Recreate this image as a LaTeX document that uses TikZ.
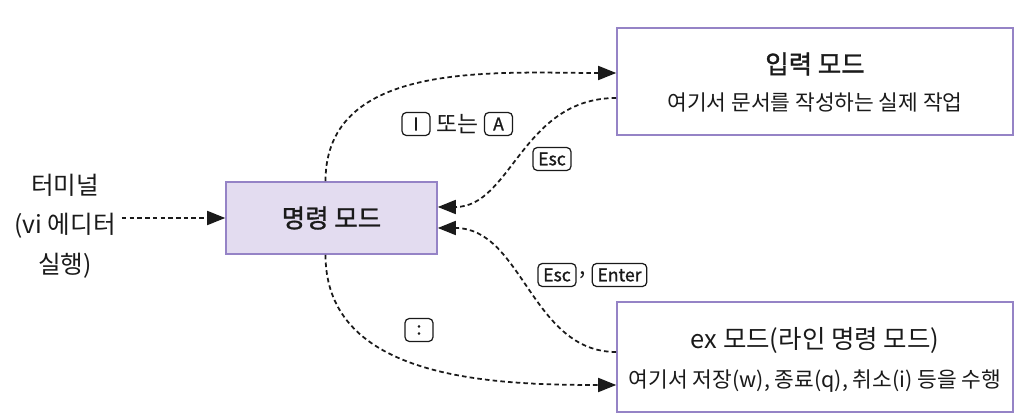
\documentclass[tikz,border=0pt]{standalone}
\usepackage{fontspec}
\setmainfont{Noto Sans CJK KR}
\newfontfamily\medfont[FakeBold=1.2]{Noto Sans CJK KR}
\usetikzlibrary{arrows.meta,positioning}
\definecolor{modeline}{HTML}{9583C6}
\definecolor{modefill}{HTML}{E3DCF0}
\definecolor{ink}{HTML}{1A1A1A}
\tikzset{
  >={Triangle[length=3.6mm,width=2.8mm]},
  % 모드
  cmdbox/.style={draw=modeline,fill=modefill,line width=0.9pt,minimum width=4.22cm,
                 minimum height=1.44cm,font=\fontsize{14.5}{16}\medfont,text=ink},
  modebox/.style={draw=modeline,fill=white,line width=0.9pt,minimum width=7.92cm},
  ttl/.style={font=\fontsize{14.5}{16}\selectfont,text=ink,inner sep=1pt},
  sub/.style={font=\fontsize{12.2}{14}\selectfont,text=ink,inner sep=1pt},
  tr/.style={->,draw=ink,line width=1pt,dash pattern=on 2.6pt off 1.8pt},
  % 키
  kc/.style={draw=ink,rounded corners=2.5pt,line width=0.7pt,minimum height=0.46cm,
             minimum width=0.56cm,inner xsep=3pt,inner ysep=0pt,
             font=\fontsize{10}{11}\medfont,text=ink},
  kl/.style={inner sep=1pt,font=\fontsize{13}{14}\selectfont,text=ink},
}
\begin{document}
\begin{tikzpicture}
\useasboundingbox (0,0) rectangle (20.4,8.4);
  \node[align=center,text=ink,font=\fontsize{14}{22.5}\selectfont] (term) at (1.3,3.88)
    {터미널\\(vi 에디터\\실행)};
  \node[cmdbox] (cmd) at (6.63,4.04) {명령 모드};
  \node[modebox,minimum height=2.14cm] (ins) at (16.3,6.77) {};
  \node[ttl,font=\fontsize{14.5}{16}\medfont] (insT) at (16.3,7.12) {입력 모드};
  \node[sub] (insS) at (16.3,6.35) {여기서 문서를 작성하는 실제 작업};
  \node[modebox,minimum height=2.2cm] (ex) at (16.3,1.26) {};
  \node[ttl] (exT) at (16.3,1.6) {ex 모드(라인 명령 모드)};
  \node[sub] (exS) at (16.3,0.78) {여기서 저장(w), 종료(q), 취소(i) 등을 수행};
  % 전환
  \draw[tr] (term.east |- cmd.west) -- (cmd.west);
  \draw[tr] ([xshift=-0.12cm]cmd.north) to[out=90,in=180] ([yshift=0.17cm]ins.west);
  \draw[tr] ([yshift=-0.33cm]ins.west)
    to[out=180,in=0,out looseness=1.15,in looseness=0.9] ([yshift=0.22cm]cmd.east);
  \draw[tr] ([yshift=0.1cm]ex.west) to[out=180,in=0] ([yshift=-0.2cm]cmd.east);
  \draw[tr] ([xshift=-0.12cm]cmd.south) to[out=-90,in=180] ([yshift=-0.56cm]ex.west);
  % 키
  \node[kc] (kI) at (8.32,5.92) {I};
  \node[kl,right=2pt of kI] (orI) {또는};
  \node[kc,right=2pt of orI] (kA) {A};
  \node[kc] (kEsc) at (11.04,5.22) {Esc};
  \node[kc] (kEsc2) at (11.14,2.9) {Esc};
  \node[kl,right=0.5pt of kEsc2] (comma) {,};
  \node[kc,right=2pt of comma] (kEnter) {Enter};
  \node[kc] (kColon) at (8.38,1.8) {:};
\end{tikzpicture}
\end{document}
